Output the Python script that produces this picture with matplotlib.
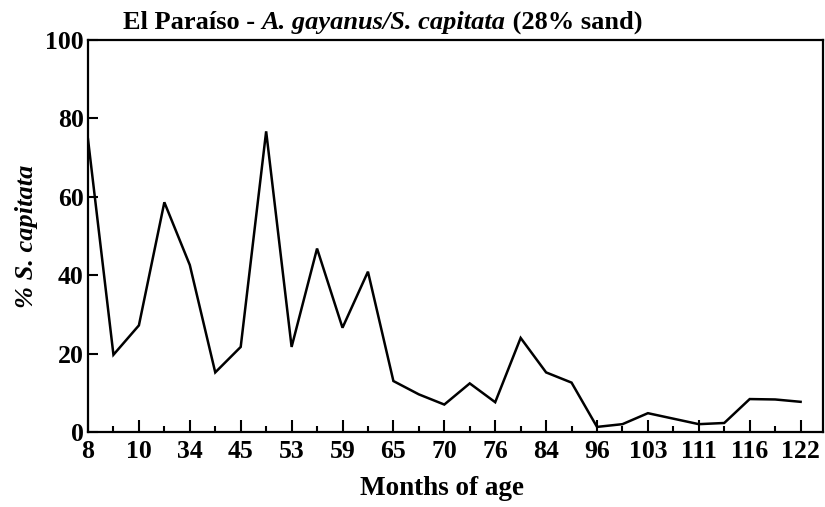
import numpy as np
import matplotlib
matplotlib.use("Agg")
import matplotlib.pyplot as plt

# tick labels along the age axis (months), evenly spaced
month_labels = ["8", "10", "34", "45", "53", "59", "65", "70", "76", "84",
                "96", "103", "111", "116", "122"]

# % S. capitata read at every major and minor tick (29 samples)
pct_capitata = [74.7, 19.7, 27.2, 58.6, 42.6, 15.2, 21.7, 76.7, 21.7, 46.8,
                26.6, 40.9, 13.0, 9.6, 7.0, 12.4, 7.6, 24.0, 15.2, 12.6,
                1.3, 2.0, 4.8, 3.4, 2.0, 2.3, 8.4, 8.3, 7.7]

y_ticks = [0, 20, 40, 60, 80, 100]

plt.rcParams['font.family'] = ['Liberation Serif', 'DejaVu Serif']

fig = plt.figure(figsize=(8.25, 5.07), dpi=100)
ax = fig.add_axes([88/825, 75/507, 735/825, 392/507])

xpos = np.arange(len(pct_capitata)) * 0.5
ax.plot(xpos, pct_capitata, color='black', lw=1.8, solid_joinstyle='miter')

ax.set_xlim(0, 14.44)
ax.set_ylim(0, 100)
ax.set_xticks(np.arange(len(month_labels)))
ax.set_xticklabels(month_labels)
ax.set_xticks(np.arange(len(month_labels) - 1) + 0.5, minor=True)
ax.set_yticks(y_ticks)
ax.set_yticklabels([str(v) for v in y_ticks])

ax.tick_params(axis='x', which='major', direction='in', length=9, width=1.5,
               labelsize=18.5, pad=6)
ax.tick_params(axis='x', which='minor', direction='in', length=4.5, width=1.5)
ax.tick_params(axis='y', which='major', direction='in', length=7, width=1.5,
               labelsize=18.5, pad=3)
for lab in ax.get_xticklabels() + ax.get_yticklabels():
    lab.set_fontweight('bold')
for sp in ax.spines.values():
    sp.set_linewidth(1.6)

ax.set_xlabel("Months of age", fontsize=19.5, fontweight='bold')
ax.xaxis.set_label_coords(0.4816, -0.112)
ax.set_ylabel("% S. capitata", fontsize=19, fontweight='bold', style='italic',
              labelpad=5)

# title with mixed upright / italic pieces
t1 = fig.text(123/825, 1 - 29/507, "El Paraíso - ", fontsize=19,
              fontweight='bold', va='baseline')
t2 = ax.annotate("A. gayanus/S. capitata", xycoords=t1, xy=(1, 0),
                 va='bottom', fontsize=19, fontweight='bold', style='italic',
                 annotation_clip=False)
t3 = ax.annotate(" (28% sand)", xycoords=t2, xy=(1, 0), va='bottom',
                 fontsize=19, fontweight='bold', annotation_clip=False)

fig.savefig("out.png", dpi=100)
